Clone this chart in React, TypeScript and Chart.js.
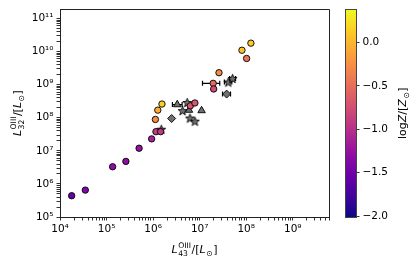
import React, { useEffect, useRef } from 'react';
import { Chart, registerables } from 'chart.js';
Chart.register(...registerables);

// ---- data ----
const circX = [1.78e4, 3.5e4, 1.35e5, 2.6e5, 5.0e5, 9.3e5, 1.15e6, 1.45e6, 1.12e6, 1.26e6, 1.55e6, 6.3e6, 7.9e6, 1.95e7, 2.0e7, 2.6e7, 8.1e7, 1.26e8, 1.02e8];
const circY = [4.4e5, 6.5e5, 3.3e6, 4.8e6, 1.2e7, 2.3e7, 3.8e7, 3.8e7, 8.9e7, 1.7e8, 2.6e8, 2.3e8, 2.8e8, 1.1e9, 7.4e8, 2.3e9, 1.1e10, 1.8e10, 6.2e9];
const circZ = [-1.53, -1.39, -1.3, -1.3, -1.25, -1.13, -0.93, -0.93, -0.27, -0.05, 0.14, -0.7, -0.68, -0.53, -0.77, -0.29, 0.07, 0.1, -0.46];

const starX = [5.4e6, 4.3e6, 6.2e6, 7.9e6, 4.1e7, 5.1e7, 1.5e6];
const starY = [2.9e8, 1.65e8, 9.8e7, 7.9e7, 1.2e9, 1.55e9, 4.5e7];
const triX = [3.3e6, 5.9e6, 1.1e7];
const triY = [2.5e8, 1.7e8, 1.65e8];
const diaX = [2.5e6, 3.8e7];
const diaY = [9.5e7, 5.2e8];

// horizontal error bars
const ebY = [1.1e9, 2.5e8, 5.2e8, 1.2e9, 1.55e9];
const ebLo = [1.15e7, 2.6e6, 3.1e7, 3.4e7, 4.4e7];
const ebHi = [2.7e7, 4.2e6, 4.6e7, 4.9e7, 5.9e7];

const xMin = 1e4, xMax = 6e9;
const yMin = 1e5, yMax = 1.9e11;
const zMin = -2.01, zMax = 0.38;
const xMajor = [1e4, 1e5, 1e6, 1e7, 1e8, 1e9];
const yMajor = [1e5, 1e6, 1e7, 1e8, 1e9, 1e10, 1e11];
const cbTicks = [-2.0, -1.5, -1.0, -0.5, 0.0];

const FONT = '"DejaVu Sans", sans-serif';
const PLASMA = ['#0d0887', '#41049d', '#6a00a8', '#8f0da4', '#b12a90', '#cc4778', '#e16462', '#f2844b', '#fca636', '#fcce25', '#f0f921'];

function hex(h: string) { return [1, 3, 5].map(i => parseInt(h.slice(i, i + 2), 16)); }
function plasma(t: number) {
  t = Math.max(0, Math.min(1, t));
  const p = t * 10; const i = Math.min(9, Math.floor(p)); const f = p - i;
  const a = hex(PLASMA[i]), b = hex(PLASMA[i + 1]);
  const c = a.map((v, k) => Math.round(v + (b[k] - v) * f));
  return `rgb(${c[0]},${c[1]},${c[2]})`;
}

const SUP: Record<string, string> = { '0': '⁰', '1': '¹', '2': '²', '3': '³', '4': '⁴', '5': '⁵', '6': '⁶', '7': '⁷', '8': '⁸', '9': '⁹' };
function powLabel(v: number) {
  const l = Math.log10(v);
  if (Math.abs(l - Math.round(l)) > 1e-6) return '';
  return '10' + String(Math.round(l)).split('').map(c => SUP[c]).join('');
}
function logTicks(majors: number[], lo: number, hi: number) {
  const out: { value: number; major: boolean }[] = [];
  majors.forEach(m => {
    for (let k = 1; k <= 9; k++) {
      const v = m * k;
      if (v >= lo * 0.9999 && v <= hi * 1.0001) out.push({ value: v, major: k === 1 });
    }
  });
  return out;
}

type Seg = { t?: string; it?: boolean; sup?: string; sub?: string };
function drawRich(ctx: CanvasRenderingContext2D, segs: Seg[], x: number, y: number, rot: number, size: number) {
  const small = size * 0.7;
  const f = (it: boolean | undefined, s: number) => `${it ? 'italic ' : ''}${s}px ${FONT}`;
  const widths = segs.map(s => {
    if (s.t !== undefined) { ctx.font = f(s.it, size); return ctx.measureText(s.t).width; }
    ctx.font = f(false, small);
    return Math.max(s.sup ? ctx.measureText(s.sup).width : 0, s.sub ? ctx.measureText(s.sub).width : 0) + 1;
  });
  const total = widths.reduce((a, b) => a + b, 0);
  ctx.save();
  ctx.translate(x, y);
  ctx.rotate(rot);
  ctx.fillStyle = '#000';
  ctx.textBaseline = 'alphabetic';
  ctx.textAlign = 'left';
  let cx = -total / 2;
  segs.forEach((s, i) => {
    if (s.t !== undefined) { ctx.font = f(s.it, size); ctx.fillText(s.t, cx, 0); }
    else {
      ctx.font = f(false, small);
      if (s.sup) ctx.fillText(s.sup, cx + 0.5, -size * 0.42);
      if (s.sub) ctx.fillText(s.sub, cx + 0.5, size * 0.28);
    }
    cx += widths[i];
  });
  ctx.restore();
}

function makeStar(size: number) {
  const c = document.createElement('canvas');
  c.width = size; c.height = size;
  const g = c.getContext('2d')!;
  const cx = size / 2, cy = size / 2 + 0.5, R = size / 2 - 0.8, r = R * 0.42;
  g.beginPath();
  for (let i = 0; i < 10; i++) {
    const a = -Math.PI / 2 + i * Math.PI / 5;
    const rr = i % 2 === 0 ? R : r;
    const px = cx + rr * Math.cos(a), py = cy + rr * Math.sin(a);
    if (i === 0) g.moveTo(px, py); else g.lineTo(px, py);
  }
  g.closePath();
  g.fillStyle = '#707070'; g.fill();
  g.strokeStyle = '#000'; g.lineWidth = 0.9; g.stroke();
  return c;
}

const mainPlugin = {
  id: 'mainDeco',
  beforeDatasetsDraw(chart: any) {
    const { ctx, scales: { x, y } } = chart;
    ctx.save();
    ctx.strokeStyle = '#000'; ctx.lineWidth = 1.2;
    ebY.forEach((yv, i) => {
      const py = y.getPixelForValue(yv);
      const a = x.getPixelForValue(ebLo[i]), b = x.getPixelForValue(ebHi[i]);
      ctx.beginPath();
      ctx.moveTo(a, py); ctx.lineTo(b, py);
      ctx.moveTo(a, py - 2.5); ctx.lineTo(a, py + 2.5);
      ctx.moveTo(b, py - 2.5); ctx.lineTo(b, py + 2.5);
      ctx.stroke();
    });
    ctx.restore();
  },
  afterDraw(chart: any) {
    const { ctx, chartArea: ca } = chart;
    ctx.save();
    ctx.strokeStyle = '#222'; ctx.lineWidth = 1;
    ctx.beginPath();
    ctx.moveTo(Math.round(ca.left) + 0.5, Math.round(ca.top) + 0.5);
    ctx.lineTo(Math.round(ca.right) + 0.5, Math.round(ca.top) + 0.5);
    ctx.lineTo(Math.round(ca.right) + 0.5, Math.round(ca.bottom) + 0.5);
    ctx.stroke();
    ctx.restore();
    const cxm = (ca.left + ca.right) / 2, cym = (ca.top + ca.bottom) / 2;
    drawRich(ctx, [{ t: 'L', it: true }, { sup: 'OIII', sub: '43' }, { t: '/[' }, { t: 'L', it: true }, { sub: '⊙' }, { t: ']' }], cxm, 253, 0, 11);
    drawRich(ctx, [{ t: 'L', it: true }, { sup: 'OIII', sub: '32' }, { t: '/[' }, { t: 'L', it: true }, { sub: '⊙' }, { t: ']' }], 21, cym, -Math.PI / 2, 11);
  },
};

const cbPlugin = {
  id: 'cbDeco',
  beforeDatasetsDraw(chart: any) {
    const { ctx, chartArea: ca, scales: { y } } = chart;
    const y0 = y.getPixelForValue(zMin), y1 = y.getPixelForValue(zMax);
    const g = ctx.createLinearGradient(0, y0, 0, y1);
    PLASMA.forEach((c, i) => g.addColorStop(i / 10, c));
    ctx.save();
    ctx.fillStyle = g;
    ctx.fillRect(ca.left, ca.top, ca.right - ca.left, ca.bottom - ca.top);
    ctx.strokeStyle = '#444'; ctx.lineWidth = 1;
    ctx.strokeRect(Math.round(ca.left) + 0.5, Math.round(ca.top) + 0.5, Math.round(ca.right - ca.left), Math.round(ca.bottom - ca.top));
    ctx.restore();
    drawRich(ctx, [{ t: 'log' }, { t: 'Z', it: true }, { t: '/[' }, { t: 'Z', it: true }, { sub: '⊙' }, { t: ']' }], 76, (ca.top + ca.bottom) / 2, -Math.PI / 2, 11);
  },
};

export default function App() {
  const mainRef = useRef<HTMLCanvasElement>(null);
  const cbRef = useRef<HTMLCanvasElement>(null);
  useEffect(() => {
    document.body.style.margin = '0';
    const star = makeStar(11);
    const tickFont = { family: FONT, size: 10.5 };
    const main = new Chart(mainRef.current!, {
      type: 'scatter',
      data: {
        datasets: [
          {
            data: circX.map((v, i) => ({ x: v, y: circY[i] })),
            pointRadius: 3.2,
            pointBackgroundColor: circZ.map(z => plasma((z - zMin) / (zMax - zMin))),
            pointBorderColor: '#000',
            pointBorderWidth: 0.9,
          },
          {
            data: starX.map((v, i) => ({ x: v, y: starY[i] })),
            pointStyle: star as any,
            pointRadius: 5.5,
          },
          {
            data: triX.map((v, i) => ({ x: v, y: triY[i] })),
            pointStyle: 'triangle',
            pointRadius: 4.3,
            pointBackgroundColor: '#707070',
            pointBorderColor: '#000',
            pointBorderWidth: 0.9,
          },
          {
            data: diaX.map((v, i) => ({ x: v, y: diaY[i] })),
            pointStyle: 'rectRot',
            pointRadius: 4,
            pointBackgroundColor: '#707070',
            pointBorderColor: '#000',
            pointBorderWidth: 0.9,
          },
        ],
      },
      options: {
        responsive: false,
        animation: false,
        devicePixelRatio: 1,
        layout: { padding: { left: 0, top: 8, right: 87, bottom: 0 } },
        plugins: { legend: { display: false }, tooltip: { enabled: false } },
        events: [],
        scales: {
          x: {
            type: 'logarithmic', min: xMin, max: xMax,
            afterBuildTicks: (s: any) => { s.ticks = logTicks(xMajor, xMin, xMax); },
            afterFit: (s: any) => { s.height = 45; },
            ticks: { autoSkip: false, maxRotation: 0, minRotation: 0, padding: 2, color: '#000', font: tickFont, callback: (v: any) => powLabel(Number(v)) },
            grid: { drawOnChartArea: false, tickLength: 3.5, color: '#000', tickWidth: 0.8 },
            border: { display: true, color: '#222', width: 1 },
          },
          y: {
            type: 'logarithmic', min: yMin, max: yMax,
            afterBuildTicks: (s: any) => { s.ticks = logTicks(yMajor, yMin, yMax); },
            afterFit: (s: any) => { s.width = 60; },
            ticks: { autoSkip: false, padding: 3, color: '#000', font: tickFont, callback: (v: any) => powLabel(Number(v)) },
            grid: { drawOnChartArea: false, tickLength: 3.5, color: '#000', tickWidth: 0.8 },
            border: { display: true, color: '#222', width: 1 },
          },
        },
      } as any,
      plugins: [mainPlugin],
    });
    const cb = new Chart(cbRef.current!, {
      type: 'scatter',
      data: { datasets: [] },
      options: {
        responsive: false,
        animation: false,
        devicePixelRatio: 1,
        events: [],
        layout: { padding: { left: 15, top: 9, right: 0, bottom: 45 } },
        plugins: { legend: { display: false }, tooltip: { enabled: false } },
        scales: {
          x: { display: false, min: 0, max: 1 },
          y: {
            type: 'linear', position: 'right', min: zMin, max: zMax,
            afterBuildTicks: (s: any) => { s.ticks = cbTicks.map(v => ({ value: v })); },
            afterFit: (s: any) => { s.width = 60; },
            ticks: { padding: 3, color: '#000', font: tickFont, callback: (v: any) => (Number(v) < 0 ? '−' : '') + Math.abs(Number(v)).toFixed(1) },
            grid: { drawOnChartArea: false, tickLength: 3.5, color: '#000', tickWidth: 0.8 },
            border: { display: false },
          },
        },
      } as any,
      plugins: [cbPlugin],
    });
    return () => { main.destroy(); cb.destroy(); };
  }, []);
  return (
    <div style={{ position: 'relative', width: 416, height: 262 }}>
      <canvas ref={mainRef} width={416} height={262} style={{ position: 'absolute', left: 0, top: 0, width: 416, height: 262 }} />
      <canvas ref={cbRef} width={86} height={262} style={{ position: 'absolute', left: 330, top: 0, width: 86, height: 262 }} />
    </div>
  );
}
